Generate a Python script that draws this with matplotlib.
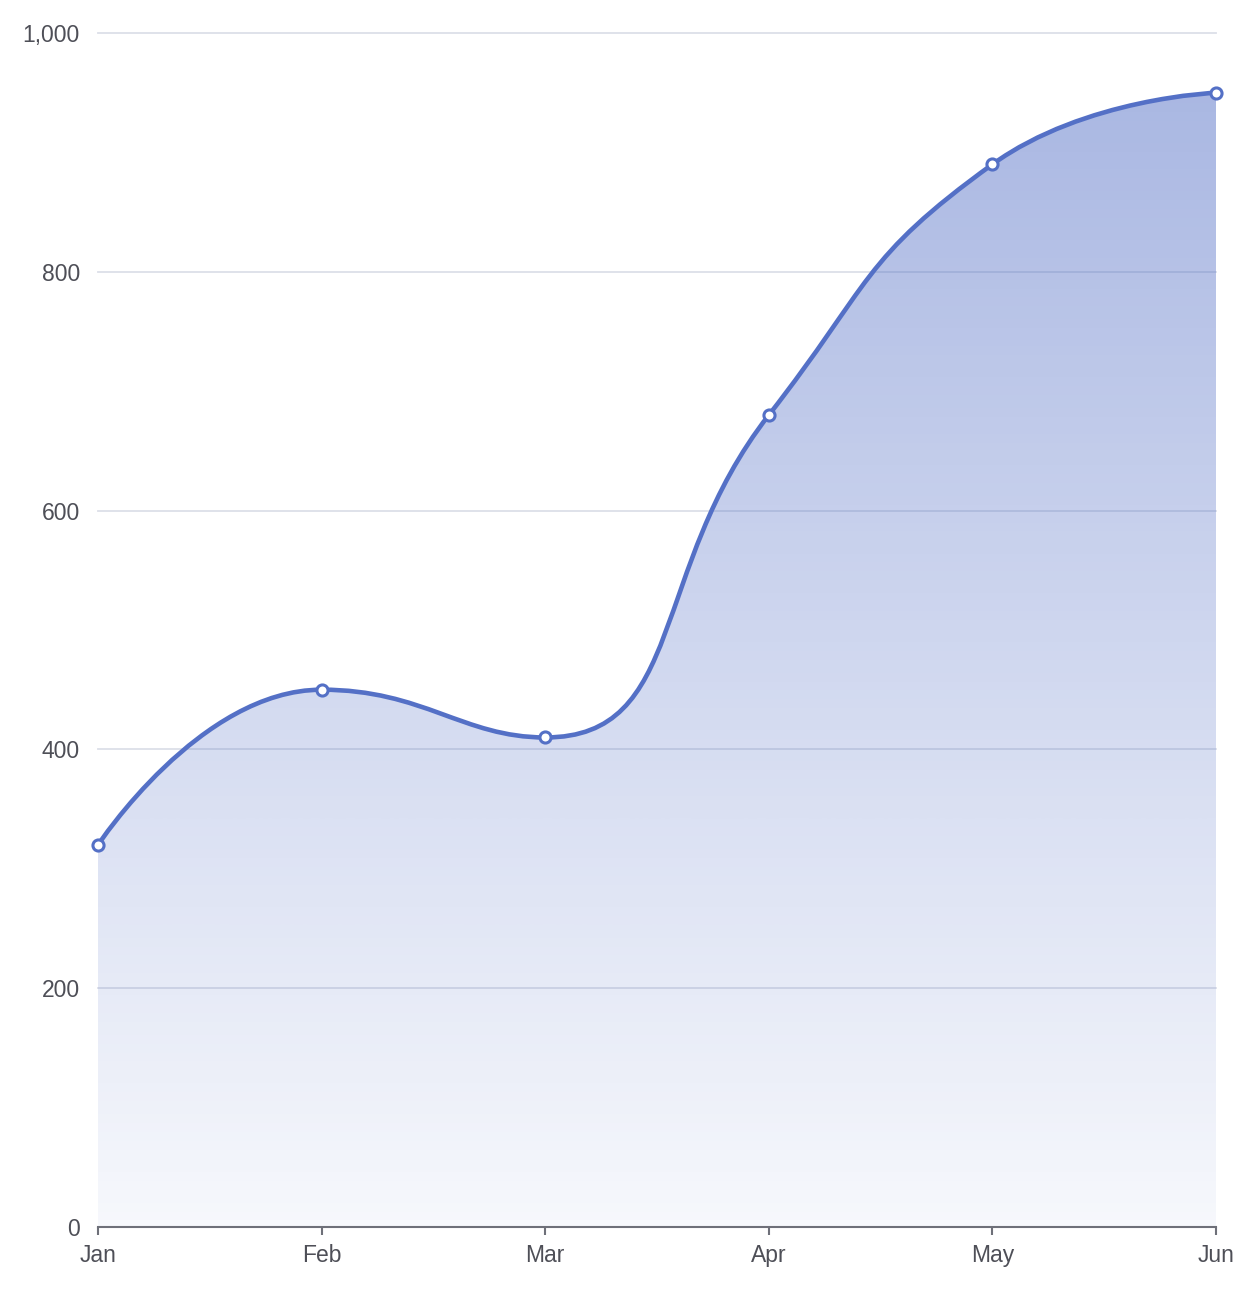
import numpy as np
import matplotlib.pyplot as plt
from matplotlib.path import Path
from matplotlib.patches import PathPatch
from matplotlib.colors import LinearSegmentedColormap

months = ['Jan', 'Feb', 'Mar', 'Apr', 'May', 'Jun']
values = [320, 450, 410, 680, 890, 950]

line_c = '#5470c6'
grid_c = '#dcdfe8'
text_c = '#4e4f57'

plt.rcParams['font.family'] = ['Liberation Sans', 'DejaVu Sans']

W, H = 1258, 1293
fig = plt.figure(figsize=(W / 100, H / 100), dpi=100)
ax = fig.add_axes([98 / W, 66 / H, 1118 / W, 1194 / H])
ymax = 1000
ax.set_xlim(0, len(months) - 1)
ax.set_ylim(0, ymax)

# echarts-style smoothing (control points clipped to each segment's box), in pixel space
sx = 1118 / (len(months) - 1)
sy = 1194 / ymax
xs = np.arange(len(months), dtype=float)
ys = np.array(values, dtype=float)
P = np.column_stack([xs * sx, ys * sy])
smooth = 0.5
n = len(P)

verts = [tuple(P[0])]
codes = [Path.MOVETO]
cp0 = P[0].copy()
for i in range(1, n):
    cur, prev = P[i], P[i - 1]
    if i == n - 1:
        cp1 = cur.copy()
        ncp0 = cur.copy()
    else:
        nxt = P[i + 1]
        v = nxt - prev
        lp = np.hypot(*(cur - prev))
        ln = np.hypot(*(nxt - cur))
        r = ln / (ln + lp)
        ncp0 = cur + v * smooth * r
        ncp0 = np.maximum(np.minimum(ncp0, np.maximum(nxt, cur)), np.minimum(nxt, cur))
        v = ncp0 - cur
        cp1 = cur - v * lp / ln
        cp1 = np.maximum(np.minimum(cp1, np.maximum(prev, cur)), np.minimum(prev, cur))
        v = cur - cp1
        ncp0 = cur + v * ln / lp
    verts += [tuple(cp0), tuple(cp1), tuple(cur)]
    codes += [Path.CURVE4] * 3
    cp0 = ncp0
verts = [(a / sx, b / sy) for a, b in verts]

line_path = Path(verts, codes)
area_path = Path(verts + [(xs[-1], 0), (xs[0], 0), verts[0]],
                 codes + [Path.LINETO, Path.LINETO, Path.CLOSEPOLY])

# gradient fill
cmap = LinearSegmentedColormap.from_list(
    'g', [(84 / 255, 112 / 255, 198 / 255, 0.05), (84 / 255, 112 / 255, 198 / 255, 0.5)])
grad = np.linspace(0, 1, 256).reshape(-1, 1)
im = ax.imshow(grad, cmap=cmap, aspect='auto', origin='lower',
               extent=[xs[0], xs[-1], 0, ys.max()], zorder=2, interpolation='bicubic')
clip = PathPatch(area_path, transform=ax.transData, facecolor='none', edgecolor='none')
ax.add_patch(clip)
im.set_clip_path(clip)

ax.add_patch(PathPatch(line_path, facecolor='none', edgecolor=line_c, lw=3.3, zorder=3,
                       capstyle='round', joinstyle='round'))
ax.plot(xs, ys, 'o', ms=8, mfc='white', mec=line_c, mew=2.2, zorder=4, clip_on=False)

ax.set_yticks(np.arange(0, 1001, 200))
ax.set_yticklabels([f'{t:,}' for t in range(0, 1001, 200)])
ax.set_xticks(xs)
ax.set_xticklabels(months)
ax.grid(axis='y', color=grid_c, lw=1.3, zorder=1)
for gl in ax.get_ygridlines():
    gl.set_clip_on(False)
ax.set_axisbelow(True)
for s in ['top', 'right', 'left']:
    ax.spines[s].set_visible(False)
ax.spines['bottom'].set_color('#6e7079')
ax.spines['bottom'].set_linewidth(1.5)
ax.spines['bottom'].set_zorder(5)
ax.tick_params(axis='y', length=0, pad=13, labelsize=16.5, labelcolor=text_c)
ax.tick_params(axis='x', length=6, width=1.5, color='#6e7079', pad=6,
               labelsize=16.5, labelcolor=text_c)

fig.savefig('out.png', dpi=100)
